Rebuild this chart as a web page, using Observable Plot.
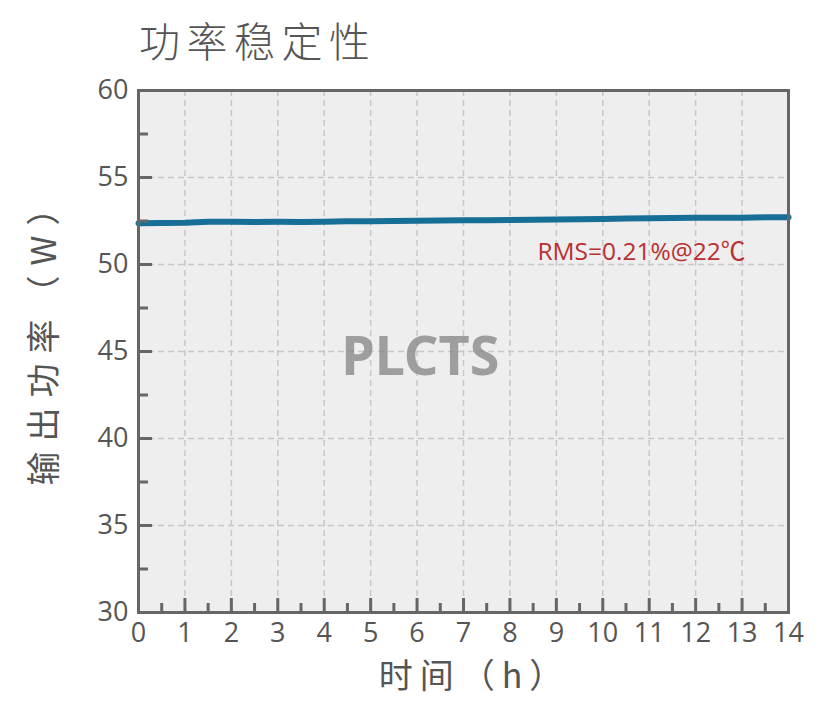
<!DOCTYPE html>
<html>
<head>
<meta charset="utf-8">
<script src="https://cdn.jsdelivr.net/npm/d3@7"></script>
<script src="https://cdn.jsdelivr.net/npm/@observablehq/plot@0.6"></script>
<style>
  body { margin: 0; background: #fff; width: 832px; height: 713px; overflow: hidden; }
  #title { height: 70px; box-sizing: border-box; padding-top: 19px; padding-left: 139px;
    font-family: "Noto Sans CJK SC", "Noto Sans", sans-serif; font-size: 41px; line-height: 41px;
    font-weight: 300; letter-spacing: 6.5px; color: #555; }
  .lbl text { letter-spacing: 7px; }
  .lbly text { letter-spacing: 10px; }
</style>
</head>
<body>
<div id="title">功率稳定性</div>
<div id="chart"></div>
<script>
const hours = [0, 0.5, 1, 1.5, 2, 2.5, 3, 3.5, 4, 4.5, 5, 5.5, 6, 6.5, 7, 7.5, 8, 8.5, 9, 9.5, 10, 10.5, 11, 11.5, 12, 12.5, 13, 13.5, 14];
const power = [52.37, 52.38, 52.40, 52.46, 52.45, 52.44, 52.45, 52.44, 52.46, 52.48, 52.49, 52.50, 52.52, 52.53, 52.55, 52.55, 52.56, 52.57, 52.58, 52.60, 52.62, 52.64, 52.66, 52.67, 52.68, 52.68, 52.69, 52.71, 52.72];
const xTicks = [0, 1, 2, 3, 4, 5, 6, 7, 8, 9, 10, 11, 12, 13, 14];
const xMinor = [0.5, 1.5, 2.5, 3.5, 4.5, 5.5, 6.5, 7.5, 8.5, 9.5, 10.5, 11.5, 12.5, 13.5];
const yTicks = [30, 35, 40, 45, 50, 55, 60];
const yMinor = [32.5, 37.5, 42.5, 47.5, 52.5, 57.5];
const xLabel = "时间（h）";
const yLabel = "输出功率（W）";
const note = "RMS=0.21%@22℃";
const watermark = "PLCTS";

const data = hours.map((h, i) => ({h, p: power[i]}));
const axisColor = "#666";
const numFont = "'Open Sans', 'Noto Sans CJK SC', sans-serif";
const gridStyle = {stroke: "#c8c8c8", strokeOpacity: 1, strokeWidth: 1.5, strokeDasharray: "6,4"};

const chart = Plot.plot({
  width: 832,
  height: 643,
  marginLeft: 138,
  marginRight: 44,
  marginTop: 20,
  marginBottom: 101,
  x: {domain: [0, 14]},
  y: {domain: [30, 60]},
  style: {fontFamily: "'Noto Sans CJK SC', 'Noto Sans', sans-serif", color: "#555", background: "#fff", overflow: "visible"},
  marks: [
    Plot.frame({fill: "#eeeeee", stroke: null}),
    Plot.gridX(xTicks, gridStyle),
    Plot.gridY(yTicks, gridStyle),
    Plot.text([watermark], {x: 6.07, y: 44.66, text: d => d, fontSize: 54, fontWeight: "bold",
      fontFamily: "'Noto Sans', sans-serif", fill: "#8a8a8a", fillOpacity: 0.8}),
    Plot.line(data, {x: "h", y: "p", stroke: "#176e96", strokeWidth: 6}),
    Plot.text([note], {x: 10.83, y: 50.72, text: d => d, fontSize: 24.5, fontFamily: numFont, fill: "#b8302f"}),
    Plot.frame({stroke: axisColor, strokeWidth: 3}),
    Plot.axisX(xTicks, {tickSize: -14, stroke: axisColor, strokeWidth: 3, tickFormat: () => "", label: null}),
    Plot.axisX(xMinor, {tickSize: -9, stroke: axisColor, strokeWidth: 3, tickFormat: () => "", label: null}),
    Plot.axisX(xTicks, {tickSize: 0, tickPadding: 10, fontSize: 27, fontFamily: numFont, fill: "#555", label: null}),
    Plot.axisY(yTicks, {tickSize: -14, stroke: axisColor, strokeWidth: 3, tickFormat: () => "", label: null}),
    Plot.axisY(yMinor, {tickSize: -10, stroke: axisColor, strokeWidth: 3, tickFormat: () => "", label: null}),
    Plot.axisY(yTicks, {tickSize: 0, tickPadding: 10, fontSize: 27, fontFamily: numFont, fill: "#555", label: null}),
    Plot.text([xLabel], {text: d => d, frameAnchor: "bottom", dy: 65, dx: 11, lineAnchor: "middle", textAnchor: "middle",
      fontSize: 34, fill: "#555", className: "lbl"}),
    Plot.text([yLabel], {text: d => d, frameAnchor: "left", dx: -93, dy: -18, rotate: -90, lineAnchor: "middle", textAnchor: "middle",
      fontSize: 34, fill: "#555", className: "lbly"})
  ]
});
document.getElementById("chart").appendChild(chart);
</script>
</body>
</html>
